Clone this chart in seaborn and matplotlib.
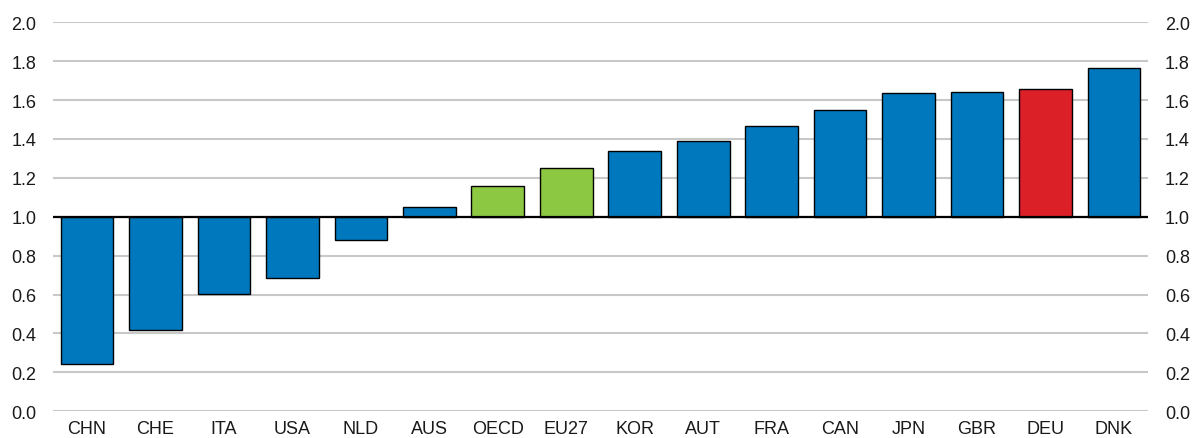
import pandas as pd
import seaborn as sns
import matplotlib.pyplot as plt

countries = ["CHN", "CHE", "ITA", "USA", "NLD", "AUS", "OECD", "EU27",
             "KOR", "AUT", "FRA", "CAN", "JPN", "GBR", "DEU", "DNK"]
values = [0.243, 0.416, 0.605, 0.687, 0.882, 1.049, 1.160, 1.249,
          1.340, 1.391, 1.468, 1.551, 1.637, 1.643, 1.659, 1.767]
groups = ["country"] * 6 + ["aggregate"] * 2 + ["country"] * 6 + ["highlight", "country"]
baseline = 1.0
yticks = [0.0, 0.2, 0.4, 0.6, 0.8, 1.0, 1.2, 1.4, 1.6, 1.8, 2.0]

palette = {"country": "#0078BE", "aggregate": "#8CC841", "highlight": "#DC2028"}

df = pd.DataFrame({"country": countries, "value": values, "group": groups})
df["delta"] = df["value"] - baseline

sns.set_theme(style="white")
plt.rcParams["font.family"] = ["Liberation Sans", "DejaVu Sans"]

fig = plt.figure(figsize=(12.01, 4.39), dpi=100)
ax = fig.add_axes([0.044, 0.061, 0.912, 0.886])

sns.barplot(data=df, x="country", y="delta", hue="group", palette=palette,
            dodge=False, legend=False, bottom=baseline, width=0.77,
            edgecolor="black", linewidth=1.0, saturation=1, ax=ax, zorder=3)

ax.set_ylim(0, 2.0)
ax.set_xlim(-0.5, len(countries) - 0.5)
ax.set_yticks(yticks)
ax.set_yticklabels([f"{t:.1f}" for t in yticks])
ax.yaxis.grid(True, color="#c8c8c8", linewidth=1.5, zorder=0)
ax.set_axisbelow(True)
ax.axhline(baseline, color="black", linewidth=1.6, zorder=4)
for s in ax.spines.values():
    s.set_visible(False)
ax.set_xlabel("")
ax.set_ylabel("")
ax.tick_params(axis="both", length=0, labelsize=13, colors="#1a1a1a")
ax.tick_params(axis="y", pad=12)
ax.tick_params(axis="x", pad=6)

ax2 = ax.twinx()
ax2.set_ylim(ax.get_ylim())
ax2.set_yticks(yticks)
ax2.set_yticklabels([f"{t:.1f}" for t in yticks])
ax2.tick_params(axis="y", length=0, labelsize=13, colors="#1a1a1a", pad=12)
ax2.grid(False)
for s in ax2.spines.values():
    s.set_visible(False)

fig.savefig("out.png", dpi=100)
